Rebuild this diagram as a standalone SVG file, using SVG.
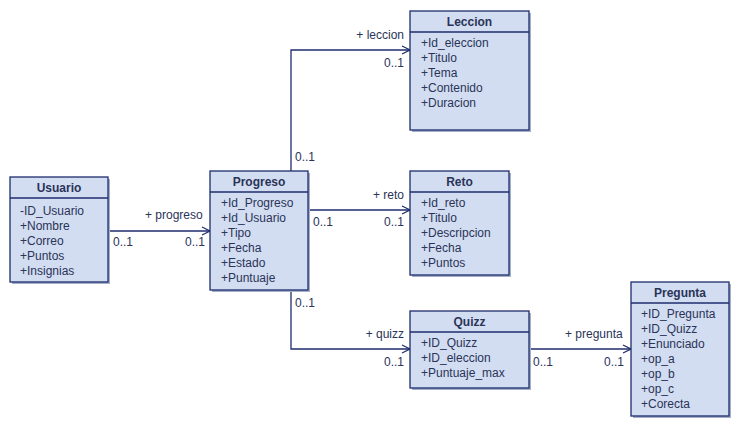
<svg xmlns="http://www.w3.org/2000/svg" width="740" height="428" viewBox="0 0 740 428">
<style>
.box{fill:#d2ddf1;stroke:#1e2d6e;stroke-width:1.3}
.sh{fill:#a4b0c8}
.sep{stroke:#1e2d6e;stroke-width:1.3}
.t{font-family:"Liberation Sans",Arial,sans-serif;font-size:12px;font-weight:bold;fill:#2a3358;text-anchor:middle}
.a{font-family:"Liberation Sans",Arial,sans-serif;font-size:12px;fill:#2a3358}
.l{font-family:"Liberation Sans",Arial,sans-serif;font-size:12px;fill:#2a3358}
.e{text-anchor:end}
.c{fill:none;stroke:#1e2d6e;stroke-width:1.3}
</style>
<defs>
<marker id="arr" markerWidth="10" markerHeight="10" refX="9" refY="5" orient="auto" markerUnits="userSpaceOnUse">
<path d="M1,1 L9,5 L1,9" fill="none" stroke="#1e2d6e" stroke-width="1.2"/>
</marker>
</defs>
<rect width="740" height="428" fill="#ffffff"/>
<g id="connectors">
<path class="c" d="M108,231 H210" marker-end="url(#arr)"/>
<path class="c" d="M291,171 V50 H410" marker-end="url(#arr)"/>
<path class="c" d="M308,210 H410" marker-end="url(#arr)"/>
<path class="c" d="M291,290 V349 H410" marker-end="url(#arr)"/>
<path class="c" d="M529,349 H631" marker-end="url(#arr)"/>
<text class="l" x="145" y="219">+ progreso</text>
<text class="l" x="113" y="246">0..1</text>
<text class="l e" x="205" y="246">0..1</text>
<text class="l e" x="404" y="39">+ leccion</text>
<text class="l e" x="404" y="67">0..1</text>
<text class="l" x="295" y="161">0..1</text>
<text class="l e" x="404" y="199">+ reto</text>
<text class="l" x="313" y="226">0..1</text>
<text class="l e" x="404" y="226">0..1</text>
<text class="l" x="295" y="307">0..1</text>
<text class="l e" x="404" y="338">+ quizz</text>
<text class="l e" x="404" y="366">0..1</text>
<text class="l" x="565" y="338">+ pregunta</text>
<text class="l" x="533" y="366">0..1</text>
<text class="l e" x="624" y="366">0..1</text>
</g>
<g id="Usuario">
<rect class="sh" x="12" y="179" width="98" height="105"/>
<rect class="box" x="10" y="177" width="98" height="105"/>
<line class="sep" x1="10" y1="198" x2="108" y2="198"/>
<text class="t" x="59" y="192">Usuario</text>
<text class="a" x="20" y="215">-ID_Usuario</text>
<text class="a" x="20" y="230">+Nombre</text>
<text class="a" x="20" y="245">+Correo</text>
<text class="a" x="20" y="260">+Puntos</text>
<text class="a" x="20" y="275">+Insignias</text>
</g>
<g id="Progreso">
<rect class="sh" x="212" y="173" width="98" height="119"/>
<rect class="box" x="210" y="171" width="98" height="119"/>
<line class="sep" x1="210" y1="192" x2="308" y2="192"/>
<text class="t" x="259" y="186">Progreso</text>
<text class="a" x="221" y="207">+Id_Progreso</text>
<text class="a" x="221" y="222">+Id_Usuario</text>
<text class="a" x="221" y="237">+Tipo</text>
<text class="a" x="221" y="252">+Fecha</text>
<text class="a" x="221" y="267">+Estado</text>
<text class="a" x="221" y="282">+Puntuaje</text>
</g>
<g id="Leccion">
<rect class="sh" x="412" y="13" width="119" height="119"/>
<rect class="box" x="410" y="11" width="119" height="119"/>
<line class="sep" x1="410" y1="32" x2="529" y2="32"/>
<text class="t" x="469.5" y="26">Leccion</text>
<text class="a" x="421" y="47">+Id_eleccion</text>
<text class="a" x="421" y="62">+Titulo</text>
<text class="a" x="421" y="77">+Tema</text>
<text class="a" x="421" y="92">+Contenido</text>
<text class="a" x="421" y="107">+Duracion</text>
</g>
<g id="Reto">
<rect class="sh" x="412" y="173" width="99" height="104"/>
<rect class="box" x="410" y="171" width="99" height="104"/>
<line class="sep" x1="410" y1="192" x2="509" y2="192"/>
<text class="t" x="459.5" y="186">Reto</text>
<text class="a" x="421" y="207">+Id_reto</text>
<text class="a" x="421" y="222">+Titulo</text>
<text class="a" x="421" y="237">+Descripcion</text>
<text class="a" x="421" y="252">+Fecha</text>
<text class="a" x="421" y="267">+Puntos</text>
</g>
<g id="Quizz">
<rect class="sh" x="412" y="313" width="119" height="77"/>
<rect class="box" x="410" y="311" width="119" height="77"/>
<line class="sep" x1="410" y1="332" x2="529" y2="332"/>
<text class="t" x="469.5" y="326">Quizz</text>
<text class="a" x="421" y="347">+ID_Quizz</text>
<text class="a" x="421" y="362">+ID_eleccion</text>
<text class="a" x="421" y="377">+Puntuaje_max</text>
</g>
<g id="Pregunta">
<rect class="sh" x="633" y="284" width="98" height="134"/>
<rect class="box" x="631" y="282" width="98" height="134"/>
<line class="sep" x1="631" y1="303" x2="729" y2="303"/>
<text class="t" x="680" y="297">Pregunta</text>
<text class="a" x="641" y="318">+ID_Pregunta</text>
<text class="a" x="641" y="333">+ID_Quizz</text>
<text class="a" x="641" y="348">+Enunciado</text>
<text class="a" x="641" y="363">+op_a</text>
<text class="a" x="641" y="378">+op_b</text>
<text class="a" x="641" y="393">+op_c</text>
<text class="a" x="641" y="408">+Corecta</text>
</g>
</svg>
